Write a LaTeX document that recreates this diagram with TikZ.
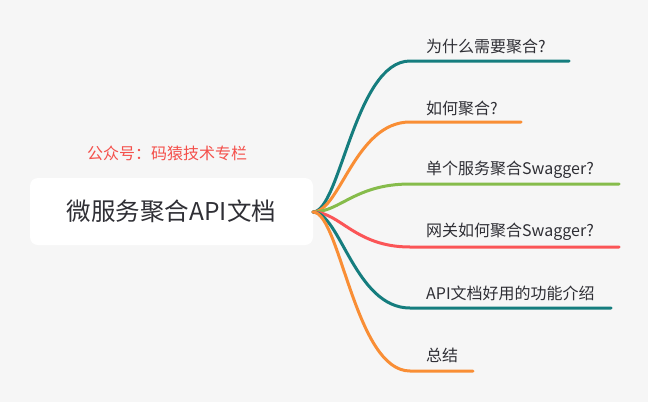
\documentclass[tikz,border=0pt]{standalone}
\usepackage{fontspec}
\newfontfamily\cjk{Noto Sans CJK SC}
\definecolor{bg}{HTML}{F6F6F6}
\definecolor{cteal}{HTML}{157D7E}
\definecolor{corange}{HTML}{F98E35}
\definecolor{cgreen}{HTML}{86BC4B}
\definecolor{cred}{HTML}{FB5557}
\definecolor{ctext}{HTML}{2F2F35}
\definecolor{cnote}{HTML}{F4504B}
\begin{document}
\begin{tikzpicture}[x=1pt,y=-1pt,
  branch/.style={line width=3pt,line cap=round},
  leaf/.style={anchor=west,inner sep=0pt,text=ctext,font=\cjk\fontsize{16}{19}\selectfont},
  rootbox/.style={fill=white,rounded corners=8pt,minimum width=283pt,minimum height=67pt,inner sep=0pt,text=ctext,font=\cjk\fontsize{24.5}{30}\selectfont}]
\fill[bg] (0,0) rectangle (648,402);
\useasboundingbox (0,0) rectangle (648,402);
\node[rootbox] (root) at (171.5,211.5) {微服务聚合API文档};
\node[text=cnote,font=\cjk\fontsize{16}{18}\selectfont,inner sep=0pt] (note) at (167,153) {公众号：码猿技术专栏};
\coordinate (o) at (313,212);
% branch ends
\coordinate (s1) at (410,61);  \coordinate (e1) at (569,61);
\coordinate (s2) at (410,122); \coordinate (e2) at (521,122);
\coordinate (s3) at (410,184); \coordinate (e3) at (619,184);
\coordinate (s4) at (410,247); \coordinate (e4) at (619,247);
\coordinate (s5) at (410,308); \coordinate (e5) at (611,308);
\coordinate (s6) at (410,371); \coordinate (e6) at (473,371);
\draw[branch,cteal]   (o) .. controls (340,212) and (355,61)  .. (s1) -- (e1);
\draw[branch,corange] (o) .. controls (340,212) and (355,122) .. (s2) -- (e2);
\draw[branch,cgreen]  (o) .. controls (340,212) and (355,184) .. (s3) -- (e3);
\draw[branch,cred]    (o) .. controls (340,212) and (355,247) .. (s4) -- (e4);
\draw[branch,cteal]   (o) .. controls (340,212) and (355,308) .. (s5) -- (e5);
\draw[branch,corange] (o) .. controls (340,212) and (355,371) .. (s6) -- (e6);
\node[leaf] (l1) at (426,46)  {为什么需要聚合?};
\node[leaf] (l2) at (426,108) {如何聚合?};
\node[leaf] (l3) at (426,170) {单个服务聚合Swagger?};
\node[leaf] (l4) at (426,232) {网关如何聚合Swagger?};
\node[leaf] (l5) at (426,293) {API文档好用的功能介绍};
\node[leaf] (l6) at (426,355) {总结};
\end{tikzpicture}
\end{document}
